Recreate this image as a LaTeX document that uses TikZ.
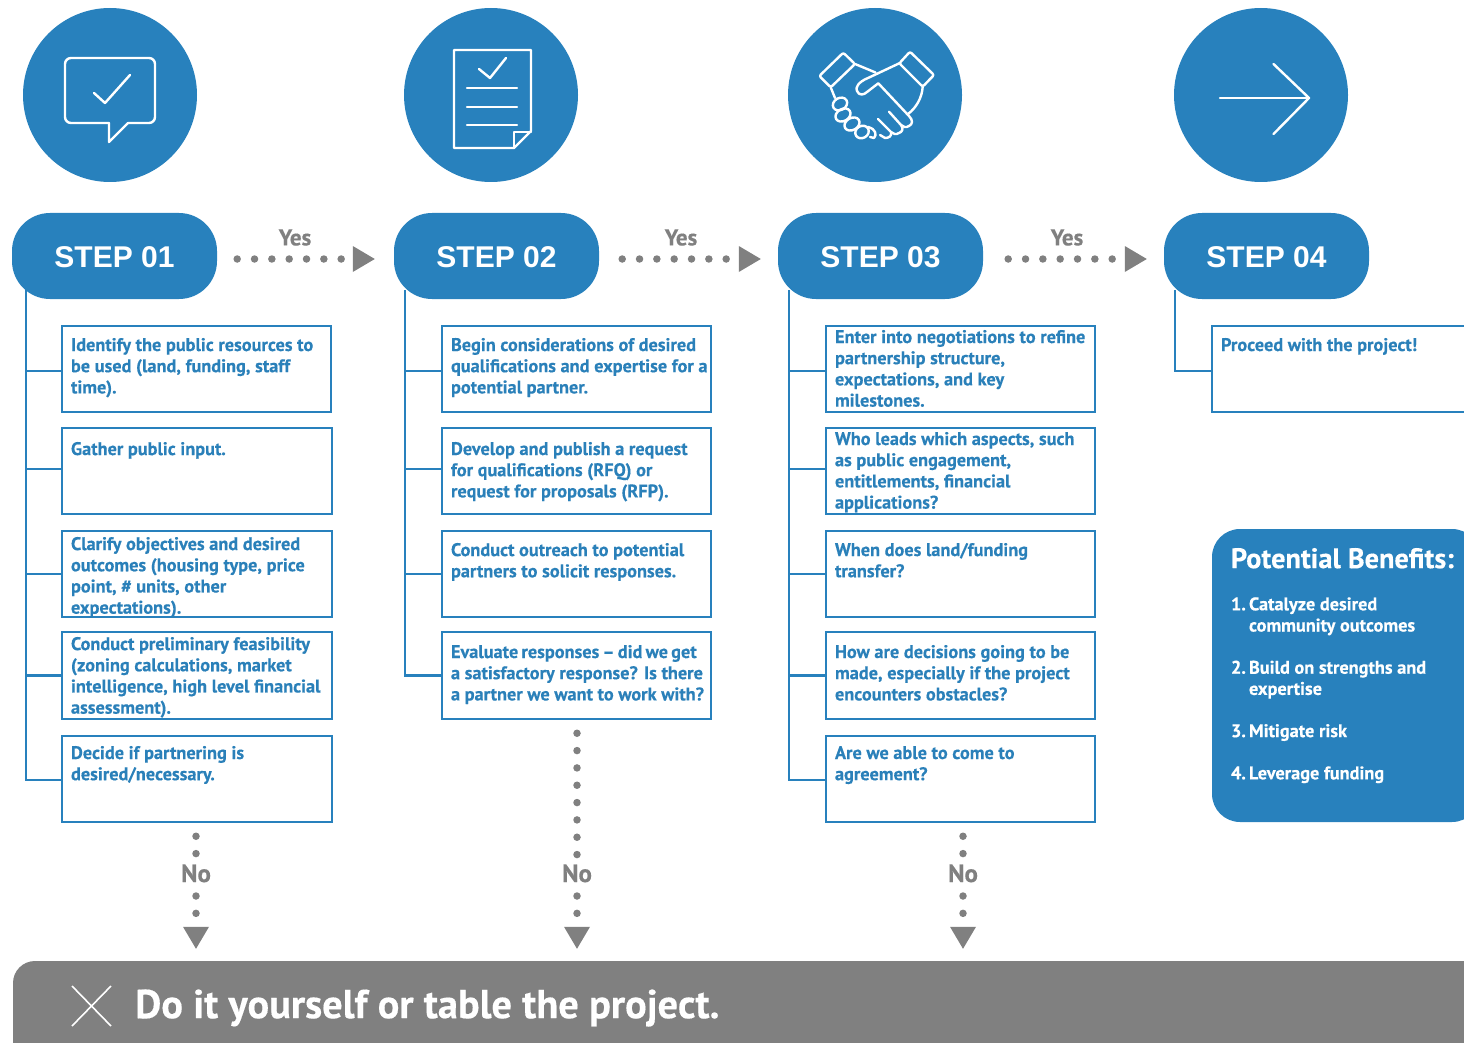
\documentclass[tikz,border=0pt]{standalone}
\usepackage{fontspec}
\setmainfont[BoldFeatures={FakeBold=0.35}]{PT Sans}
\newfontfamily\stepfont{Liberation Sans}
\usetikzlibrary{arrows.meta}
\definecolor{bluefill}{HTML}{2881BD}
\definecolor{bluetext}{HTML}{2A80B9}
\definecolor{grayfill}{HTML}{808080}
\newcommand{\bodyfont}{\bfseries\fontsize{18.3}{21.2}\selectfont}
\newcommand{\stepbox}[7]{%
  \pgfmathsetmacro\bw{#4-#2}\pgfmathsetmacro\bh{#5-#3}%
  \pgfmathsetmacro\bcx{(#2+#4)/2}\pgfmathsetmacro\bcy{(#3+#5)/2}%
  \pgfmathsetmacro\bv{#6-#3-7}%
  \node[boxnode] (#1) at (\bcx,\bcy) {\parbox[c][\bh pt][t]{\bw pt}{\raggedright\leftskip=9pt\rightskip=-60pt plus 1fil\parindent=0pt\bodyfont\color{bluetext}\vspace*{\bv pt}\rule{0pt}{13pt}#7}};%
}
\tikzset{
  x=1pt,y=-1pt,
  disc/.style={circle,fill=bluefill,minimum size=174pt,inner sep=0pt},
  pill/.style={rectangle,rounded corners=38pt,fill=bluefill,minimum width=205pt,minimum height=86pt,inner sep=0pt,text=white,text height=23pt,text depth=0pt,font=\stepfont\bfseries\fontsize{30}{32}\selectfont},
  boxnode/.style={rectangle,draw=bluefill,line width=2.5pt,inner sep=0pt},
  conn/.style={draw=bluefill,line width=2.4pt},
  icon/.style={draw=white,line width=2.4pt,line join=round,line cap=round},
  dotline/.style={draw=grayfill,line width=7.5pt,line cap=round,dash pattern=on 0pt off 17.33pt},
  dottip/.style={dotline,-{Triangle[length=22pt,width=26pt,fill=grayfill,line width=0pt]}},
  yeslabel/.style={text=grayfill,inner sep=0pt,font=\bfseries\fontsize{23}{24}\selectfont},
  nolabel/.style={text=grayfill,inner sep=0pt,font=\bfseries\fontsize{25}{26}\selectfont,text height=16pt,text depth=0pt},
  panelnode/.style={rectangle,rounded corners=28pt,fill=bluefill,inner sep=0pt,text=white},
  barnode/.style={rectangle,rounded corners=22pt,fill=grayfill,inner sep=0pt,minimum width=1490pt,minimum height=120pt},
  bartext/.style={text=white,inner sep=0pt,anchor=west,font=\bfseries\fontsize{40.4}{44}\selectfont},
}
\begin{document}
\begin{tikzpicture}
\useasboundingbox (0,0) rectangle (1464,1043);
\clip (0,0) rectangle (1464,1043);
% circles
\node[disc] (c1) at (110,95) {};
\node[disc] (c2) at (491,95) {};
\node[disc] (c3) at (875,95) {};
\node[disc] (c4) at (1261,95) {};
% icon 1
\draw[icon,rounded corners=6pt] (109,123) -- (65,123) -- (65,58) -- (155,58) -- (155,123) -- (128,123);
\draw[icon] (128,123) -- (109,142) -- (109,123);
\draw[icon] (94,93) -- (105,103) -- (130,75);
% icon 2
\draw[icon] (454,50) -- (531,50) -- (531,131) -- (514,148) -- (454,148) -- cycle;
\draw[icon] (514,148) -- (514,132) -- (531,132);
\draw[icon] (479,69) -- (490,78) -- (506,58);
\draw[icon] (467,88) -- (517,88) (467,107) -- (517,107) (467,125) -- (517,125);
% icon 3
\draw[icon,rounded corners=2pt] (819.3,76) -- (843.3,52.7) -- (855,64) -- (830.7,87.3) -- cycle;
\draw[icon,rounded corners=2pt] (910,51.7) -- (934,75) -- (922.7,86.7) -- (899.3,63.3) -- cycle;
\draw[icon] (899.3,63.3) -- (868,78) .. controls (858,82) and (855,88) .. (857,91) .. controls (859,96) and (864,95) .. (867,92) -- (878.3,83.3) -- (909,116) .. controls (913,120) and (913,124) .. (909,126) .. controls (906,128) and (903,127) .. (901,125) -- (889,111.7);
\draw[icon] (901,125) .. controls (904,129) and (902,132) .. (899,133) .. controls (896,135) and (893,134) .. (891,132) -- (878,119);
\draw[icon] (891,132) .. controls (892,136) and (889,138) .. (885,138) -- (880,135);
\draw[icon] (922.7,86.7) .. controls (922,98) and (916,108) .. (908,114);
\draw[icon] (855,64) -- (875.5,72.5);
\draw[icon] (830.7,87.3) -- (835,98);
\draw[icon,rotate around={30:(840,104)}] (840,104) ellipse[x radius=7.5,y radius=6];
\draw[icon,rotate around={30:(843,115)}] (843,115) ellipse[x radius=8,y radius=6];
\draw[icon,rotate around={30:(852,124)}] (852,124) ellipse[x radius=8,y radius=6];
\draw[icon,rotate around={30:(862,132)}] (862,132) ellipse[x radius=7,y radius=6];
\draw[icon] (868,127) .. controls (876,129) and (877,135) .. (874,138) -- (870,137);
% icon 4
\draw[icon] (1220,98) -- (1309,98);
\draw[icon] (1273.5,64) -- (1309,98) -- (1273.5,134);
% spine anchors
\coordinate (sp1) at (26,290);
\coordinate (sp2) at (405,290);
\coordinate (sp3) at (789,290);
\coordinate (sp4) at (1175,290);
% boxes column 1
\stepbox{b11}{62}{326}{331}{412}{345}{Identify the public resources to\\be used (land, funding, staff\\time).}
\stepbox{b12}{62}{428}{332}{514}{449}{Gather public input.}
\stepbox{b13}{62}{531}{332}{617}{544}{Clarify objectives and desired\\outcomes (housing type, price\\point, \# units, other\\expectations).}
\stepbox{b14}{62}{632}{332}{719}{644}{Conduct preliminary feasibility\\(zoning calculations, market\\intelligence, high level financial\\assessment).}
\stepbox{b15}{62}{736}{332}{822}{753}{Decide if partnering is\\desired/necessary.}
% boxes column 2
\stepbox{b21}{442}{326}{711}{412}{345}{Begin considerations of desired\\qualifications and expertise for a\\potential partner.}
\stepbox{b22}{442}{428}{711}{514}{449}{Develop and publish a request\\for qualifications (RFQ) or\\request for proposals (RFP).}
\stepbox{b23}{442}{531}{711}{617}{550}{Conduct outreach to potential\\partners to solicit responses.}
\stepbox{b24}{442}{632}{711}{719}{652}{{\spaceskip=3.2pt Evaluate responses -- did we get}\\a satisfactory response? Is there\\a partner we want to work with?}
% boxes column 3
\stepbox{b31}{826}{326}{1095}{412}{337}{Enter into negotiations to refine\\partnership structure,\\expectations, and key\\milestones.}
\stepbox{b32}{826}{428}{1095}{514}{439}{Who leads which aspects, such\\as public engagement,\\entitlements, financial\\applications?}
\stepbox{b33}{826}{531}{1095}{617}{550}{When does land/funding\\transfer?}
\stepbox{b34}{826}{632}{1095}{719}{652}{How are decisions going to be\\made, especially if the project\\encounters obstacles?}
\stepbox{b35}{826}{736}{1095}{822}{753}{Are we able to come to\\agreement?}
% box column 4
\stepbox{b41}{1212}{326}{1475}{412}{345}{Proceed with the project!}
% connectors to boxes
\foreach \b/\s in {b11/-2,b12/2,b13/0,b14/0,b15/-1} \draw[conn] (sp1) |- ([yshift=\s pt]\b.west);
\foreach \b/\s in {b21/-2,b22/2,b23/0,b24/0} \draw[conn] (sp2) |- ([yshift=\s pt]\b.west);
\foreach \b/\s in {b31/-2,b32/2,b33/0,b34/0,b35/-1} \draw[conn] (sp3) |- ([yshift=\s pt]\b.west);
\draw[conn] (sp4) |- ([yshift=-2pt]b41.west);
% pills
\node[pill] (s1) at (114.5,256) {STEP 01};
\node[pill] (s2) at (496.5,256) {STEP 02};
\node[pill] (s3) at (880.5,256) {STEP 03};
\node[pill] (s4) at (1266.5,256) {STEP 04};
% yes arrows
\draw[dottip,shorten <=20pt,shorten >=19pt] ([yshift=-3pt]s1.east) -- ([yshift=-3pt]s2.west);
\draw[dottip,shorten <=23pt,shorten >=17pt] ([yshift=-3pt]s2.east) -- ([yshift=-3pt]s3.west);
\draw[dottip,shorten <=25pt,shorten >=17pt] ([yshift=-3pt]s3.east) -- ([yshift=-3pt]s4.west);
\node[yeslabel] (y1) at (295,237.5) {Yes};
\node[yeslabel] (y2) at (681,237.5) {Yes};
\node[yeslabel] (y3) at (1067,237.5) {Yes};
% bar
\node[barnode] (bar) at (758,1021) {};
\draw[draw=white,line width=1.6pt] (72,986) -- (111,1026) (111,986) -- (72,1026);
\node[bartext] (bt) at (135,1008) {Do it yourself or table the project.};
% no arrows
\node[nolabel] (n1) at (196,874) {No};
\node[nolabel] (n2) at (577,874) {No};
\node[nolabel] (n3) at (963,874) {No};
\draw[dotline,shorten <=13pt] (b15.south -| n1) -- (n1);
\draw[dotline,shorten <=13pt] (b24.south -| n2) -- (n2);
\draw[dotline,shorten <=13pt] (b35.south -| n3) -- (n3);
\draw[dottip,shorten <=22pt,shorten >=12pt] (n1.center) -- (bar.north -| n1);
\draw[dottip,shorten <=22pt,shorten >=12pt] (n2.center) -- (bar.north -| n2);
\draw[dottip,shorten <=22pt,shorten >=12pt] (n3.center) -- (bar.north -| n3);
% panel
\node[panelnode] (panel) at (1346,675.5) {\parbox[c][293pt][t]{268pt}{\raggedright\leftskip=19pt\rightskip=-60pt plus 1fil\parindent=0pt\bfseries
\vspace*{19pt}{\fontsize{28.3}{30}\selectfont\rule{0pt}{20pt}Potential Benefits:\par}
\fontsize{18.3}{21.2}\selectfont
\vskip 21pt
\makebox[18pt][l]{1.}Catalyze desired\\\hspace*{18pt}community outcomes\par\vskip 21pt
\makebox[18pt][l]{2.}Build on strengths and\\\hspace*{18pt}expertise\par\vskip 21pt
\makebox[18pt][l]{3.}Mitigate risk\par\vskip 21pt
\makebox[18pt][l]{4.}Leverage funding}};
\end{tikzpicture}
\end{document}
